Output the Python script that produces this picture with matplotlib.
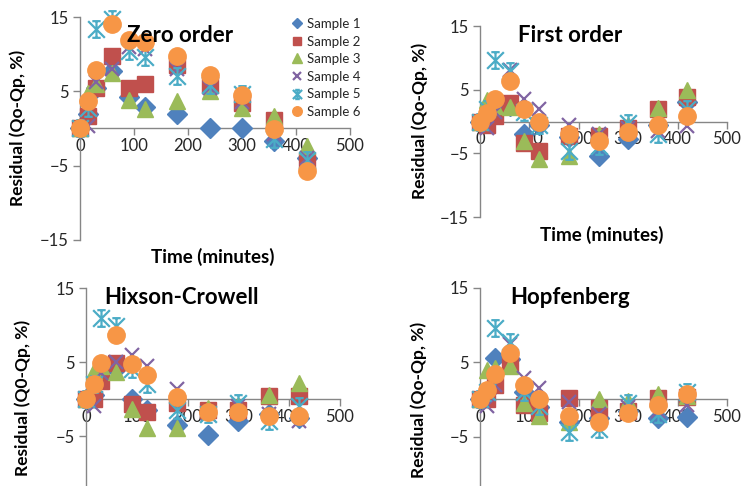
import matplotlib
matplotlib.use("Agg")
import matplotlib.pyplot as plt
from matplotlib.path import Path

plt.rcParams['font.family'] = ['Lato', 'DejaVu Sans']

# ---------------- data ----------------
time_min = [0, 15, 30, 60, 90, 120, 180, 240, 300, 360, 420]
sample_labels = ["Sample 1", "Sample 2", "Sample 3", "Sample 4", "Sample 5", "Sample 6"]

zero_order = [
    [0, 2.0, 5.5, 7.8, 4.3, 2.9, 1.9, 0.1, 0.1, -1.7, -4.0],
    [0, 1.7, 5.4, 9.7, 5.5, 6.0, 8.6, 5.8, 3.4, 1.2, -4.4],
    [0, 4.8, 6.0, 7.4, 3.9, 2.6, 3.7, 5.0, 2.7, 1.7, -2.3],
    [0, 0.3, 6.3, 8.0, 11.0, 10.7, 8.0, 5.5, 3.5, -0.8, -4.0],
    [0, 2.8, 13.4, 14.7, 10.4, 9.6, 7.0, 5.8, 4.6, -1.4, -4.3],
    [0, 3.7, 7.9, 14.1, 11.9, 11.6, 9.8, 7.2, 4.5, -0.1, -5.7],
]
first_order = [
    [0, 0.5, 1.5, 2.5, -2.0, -0.5, -2.5, -5.4, -2.8, -0.5, 3.0],
    [0, -0.6, 0.9, 2.9, -3.3, -4.6, -2.2, -2.3, -1.0, 1.9, 3.9],
    [0, 3.4, 2.5, 2.2, -3.0, -5.9, -5.4, -2.0, -0.5, 2.1, 5.0],
    [0, -1.0, 1.5, 8.1, 3.5, 1.9, -0.6, -2.0, -1.0, -1.5, -0.7],
    [0, 2.0, 9.7, 7.9, 1.5, -0.6, -4.6, -3.9, -0.3, -2.0, 1.9],
    [0, 1.4, 3.6, 6.4, 1.9, 0.0, -2.0, -3.0, -1.7, -0.6, 0.8],
]
hixson_crowell = [
    [0, 0.5, 3.0, 4.0, 0.0, -1.5, -3.5, -4.8, -3.0, -2.0, -2.5],
    [0, 0.0, 2.4, 4.9, -0.7, -1.8, -0.6, -1.5, -1.5, 0.4, 0.4],
    [0, 3.8, 4.5, 3.6, -1.4, -3.9, -3.9, -1.2, -0.8, 0.6, 2.2],
    [0, -1.0, 3.5, 5.0, 5.9, 4.4, 1.4, -2.0, -1.0, -2.0, -3.0],
    [0, 2.0, 11.0, 9.8, 4.0, 2.0, -1.5, -2.0, -0.5, -3.0, -1.0],
    [0, 2.0, 4.9, 8.7, 4.7, 3.2, 0.3, -1.7, -1.8, -2.3, -2.3],
]
hopfenberg = [
    [0, 1.0, 5.6, 5.5, 1.0, -1.0, -3.0, -2.5, -1.5, -2.5, -2.3],
    [0, 0.0, 2.0, 4.9, -0.7, -1.8, 0.2, -1.1, -1.6, 0.2, 0.4],
    [0, 4.0, 4.3, 4.5, -0.5, -2.2, -3.0, 0.0, -0.2, 0.7, 0.5],
    [0, -0.9, 2.0, 7.5, 2.9, 1.6, -0.4, -2.0, -1.0, -1.5, -0.7],
    [0, 1.0, 9.6, 7.8, 1.0, -0.9, -4.4, -4.0, -0.5, -2.0, 1.0],
    [0, 1.3, 3.4, 6.2, 1.9, 0.1, -2.2, -3.0, -1.8, -0.7, 0.7],
]

panel_titles = ["Zero order", "First order", "Hixson-Crowell", "Hopfenberg"]
x_ticks = [0, 100, 200, 300, 400, 500]
y_ticks = [-15, -5, 5, 15]

# ---------------- style ----------------
colors = ["#4F81BD", "#C0504D", "#9BBB59", "#8064A2", "#4BACC6", "#F79646"]

star = Path(
    [(-1, -1), (1, 1), (-1, 1), (1, -1), (0, -1), (0, 1),
     (-0.5, 1), (0.5, 1), (-0.5, -1), (0.5, -1)],
    [Path.MOVETO, Path.LINETO] * 5,
)
markers = ["D", "s", "^", "x", star, "o"]
msizes = [10, 11.5, 12, 10, 12, 12.5]

W, H = 744, 486
fig = plt.figure(figsize=(W / 100, H / 100), dpi=100)


def rect(x0, x1, ytop, ybot):
    return [x0 / W, 1 - ybot / H, (x1 - x0) / W, (ybot - ytop) / H]


# axes rectangles in pixels: x(0), x(500), y(15), y(-15)
rects = [
    rect(80, 350, 17, 240),
    rect(480, 727, 26, 217),
    rect(86, 340, 288, 510),
    rect(480, 727, 288, 511),
]
datasets = [zero_order, first_order, hixson_crowell, hopfenberg]
axis_color = "#868686"
text_color = "#262626"

axes = []
for r, data in zip(rects, datasets):
    ax = fig.add_axes(r)
    ax.set_facecolor("none")
    for i, ys in enumerate(data):
        filled = markers[i] not in ("x", star)
        if filled:
            ax.plot(time_min, ys, linestyle="none", marker=markers[i],
                    markersize=msizes[i], color=colors[i],
                    markeredgecolor=colors[i], clip_on=False,
                    label=sample_labels[i], zorder=3 + i)
        else:
            ax.plot(time_min, ys, linestyle="none", marker=markers[i],
                    markersize=msizes[i], color=colors[i],
                    markeredgewidth=1.6, markerfacecolor="none",
                    clip_on=False, label=sample_labels[i], zorder=3 + i)
    ax.set_xlim(0, 500)
    ax.set_ylim(-15, 15)
    ax.set_xticks(x_ticks)
    ax.set_yticks(y_ticks)
    ax.spines["top"].set_visible(False)
    ax.spines["right"].set_visible(False)
    ax.spines["bottom"].set_position(("data", 0))
    ax.spines["bottom"].set_color(axis_color)
    ax.spines["left"].set_color(axis_color)
    ax.spines["bottom"].set_linewidth(1.0)
    ax.spines["left"].set_linewidth(1.0)
    ax.tick_params(axis="both", direction="out", length=5, width=1.0,
                   color=axis_color, labelsize=12, labelcolor=text_color)
    ax.tick_params(axis="x", pad=2)
    ax.tick_params(axis="y", pad=3)
    axes.append(ax)

# panel titles
title_pos = [(180, 35), (570, 35), (182, 297), (570, 298)]
for (px, py), t in zip(title_pos, panel_titles):
    fig.text(px / W, 1 - py / H, t, fontsize=16, fontweight="bold",
             ha="center", va="center", color="#000000")

# y labels
ylab = [("Residual (Qo-Qp, %)", 18, 128), ("Residual (Qo-Qp, %)", 420, 121),
        ("Residual (Q0-Qp, %)", 23, 398), ("Residual (Qo-Qp, %)", 419, 400)]
for t, px, py in ylab:
    fig.text(px / W, 1 - py / H, t, rotation=90, fontsize=12.5,
             fontweight="bold", ha="center", va="center", color="#000000")

# x labels
for px, py in [(213, 257), (602, 235)]:
    fig.text(px / W, 1 - py / H, "Time (minutes)", fontsize=13.5,
             fontweight="bold", ha="center", va="center", color="#000000")

# legend in first panel
leg = axes[0].legend(loc="upper left", bbox_to_anchor=(292 / W, 1 - 18 / H),
                     bbox_transform=fig.transFigure, frameon=False,
                     fontsize=9.5, markerscale=0.55, handlelength=0.8,
                     handletextpad=0.3, labelspacing=0.42, borderpad=0,
                     borderaxespad=0)
for txt in leg.get_texts():
    txt.set_color(text_color)

fig.savefig("out.png", dpi=100)
